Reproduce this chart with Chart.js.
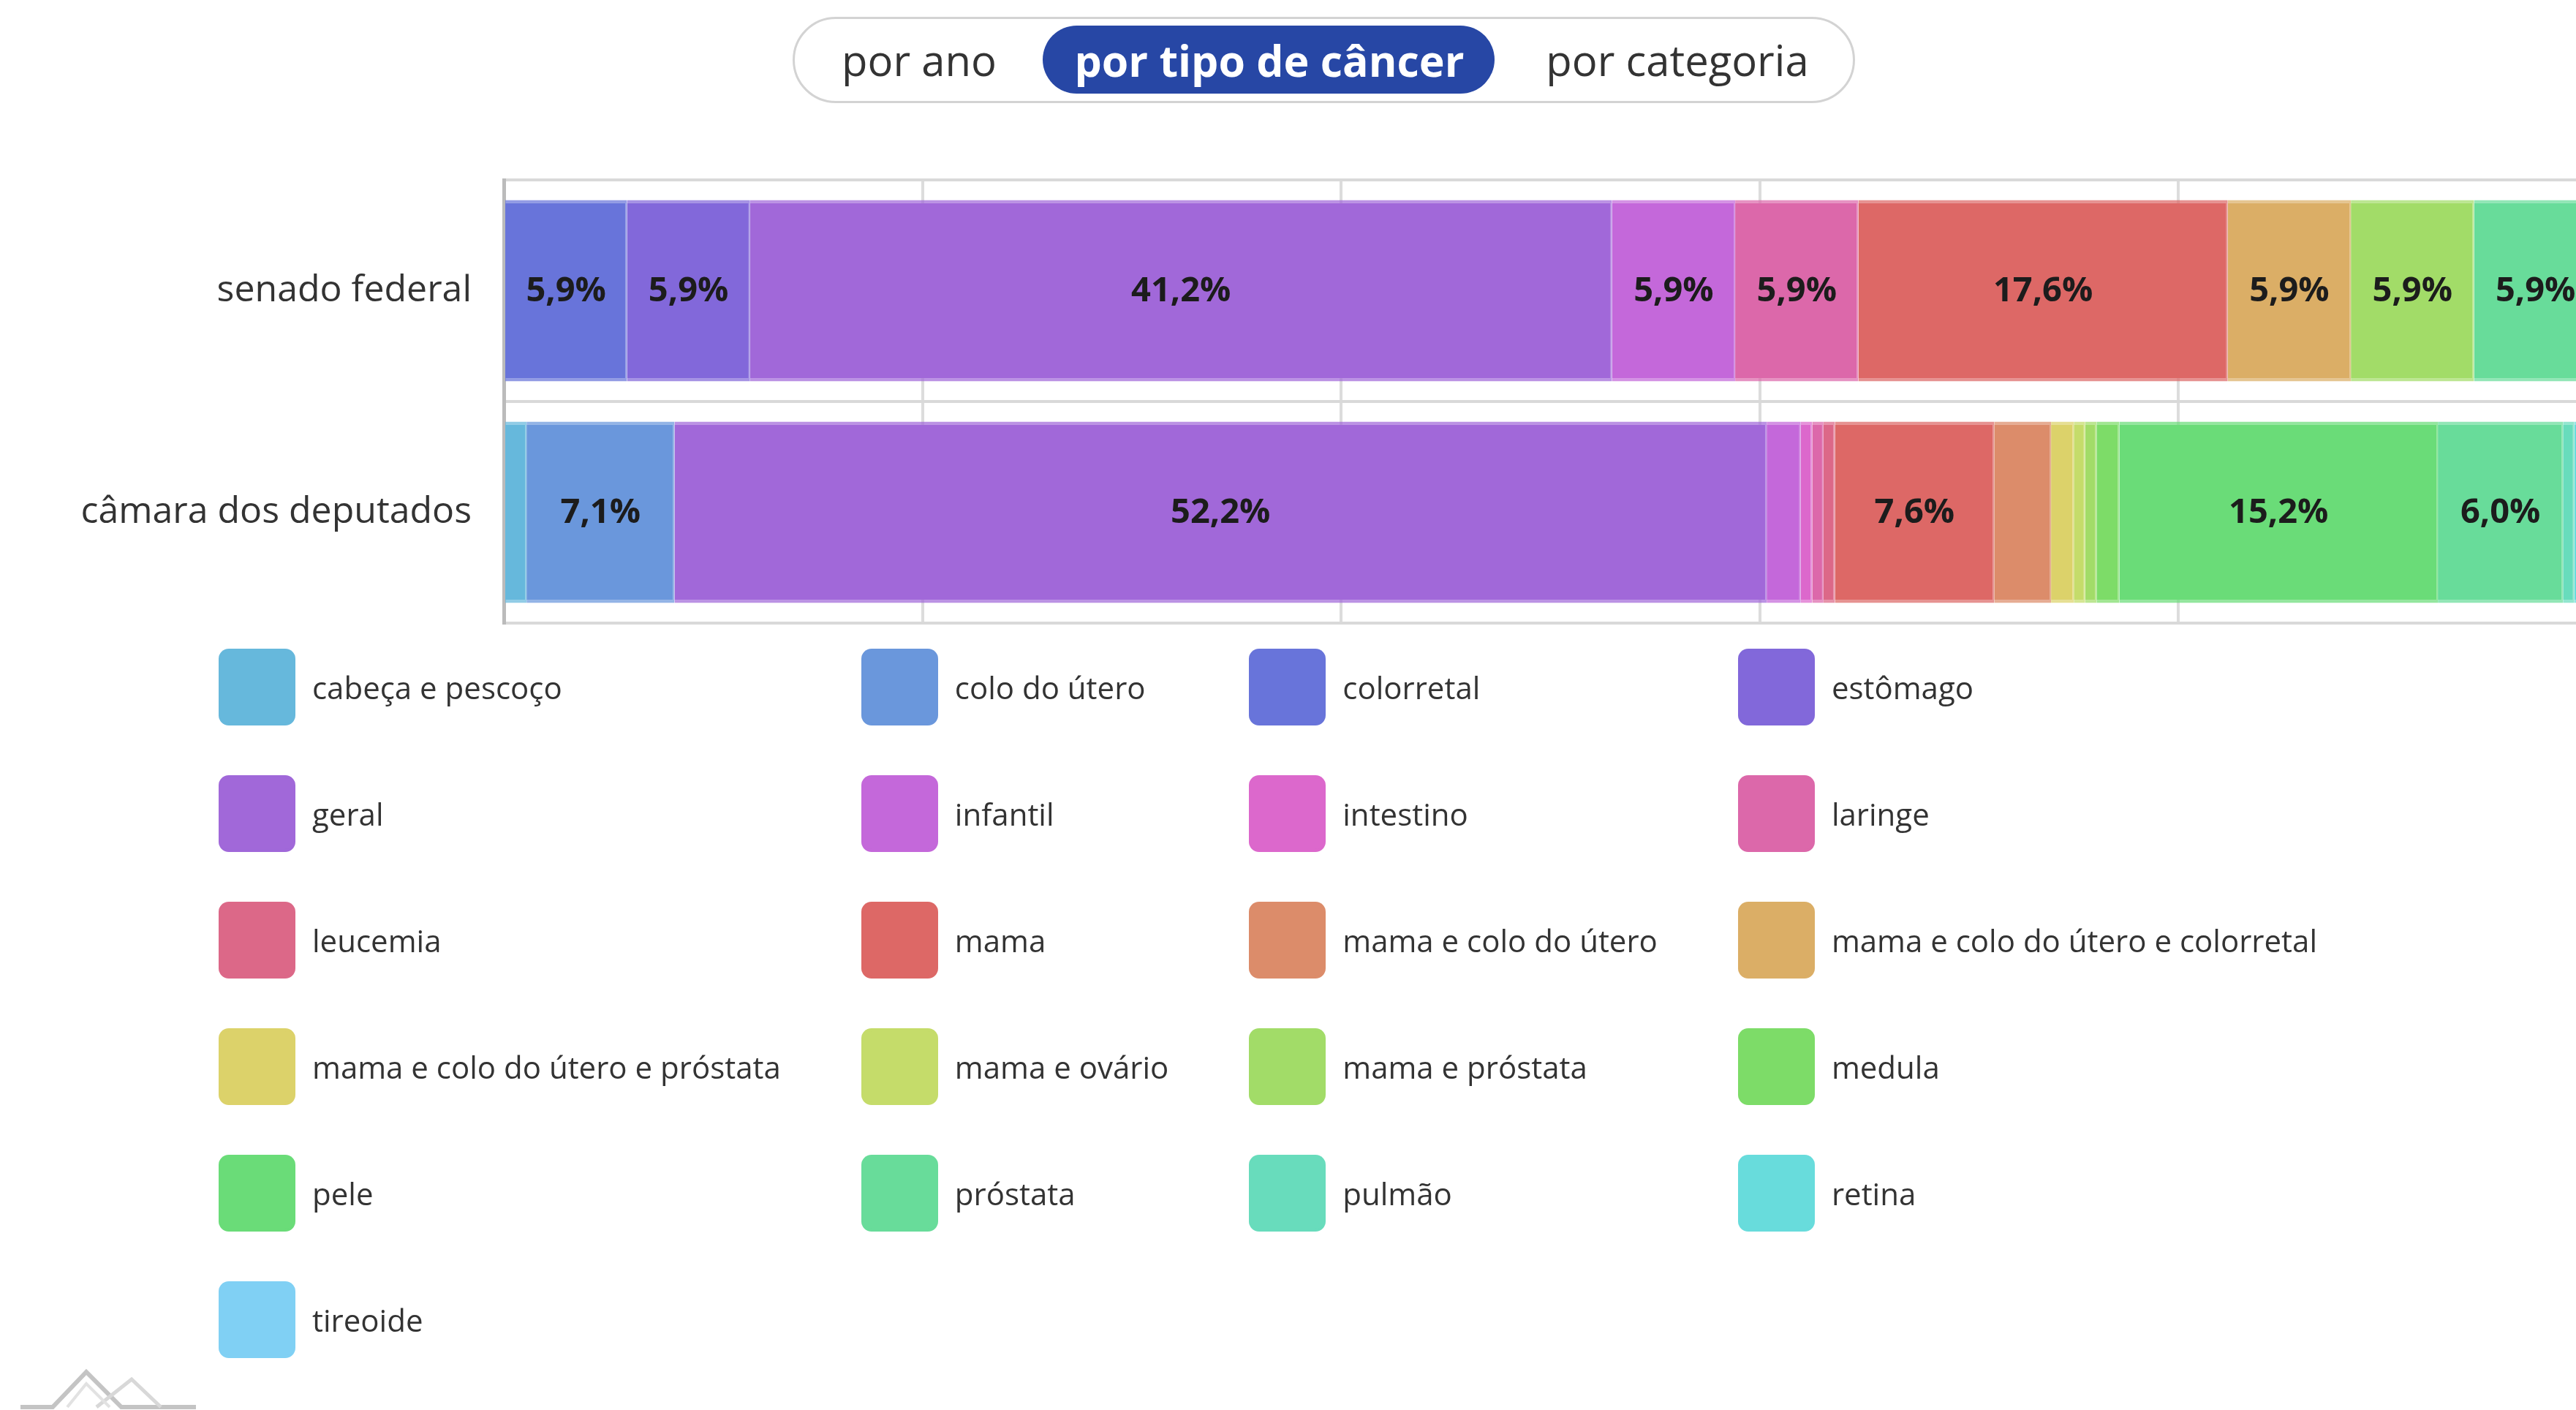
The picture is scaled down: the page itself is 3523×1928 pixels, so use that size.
<!DOCTYPE html>
<html>
<head>
<meta charset="utf-8">
<script src="https://cdn.jsdelivr.net/npm/chart.js@4.4.1/dist/chart.umd.min.js"></script>
<style>
  html, body { margin:0; padding:0; background:#fff; width:3523px; height:1928px; overflow:hidden; font-family:"Open Sans", sans-serif; }
  #toggle { position:absolute; left:1084px; top:23px; width:1453px; height:118px; box-sizing:border-box; border:3px solid #d3d3d3; border-radius:59px; background:#fff; }
  #active { position:absolute; left:1426px; top:35px; width:618px; height:93px; border-radius:47px; background:#2747a5; }
  .opt { position:absolute; top:35px; height:93px; display:flex; align-items:center; justify-content:center; font-size:58px; color:#333; white-space:nowrap; transform:translateX(-50%); }
  .opt.on { color:#fff; font-weight:700; font-size:59px; }
  #wrap { position:absolute; left:0; top:0; width:3600px; height:926px; }
  #legend { position:absolute; left:299px; top:887px; display:grid; grid-template-columns:repeat(4, auto); column-gap:110px; row-gap:68px; justify-content:start; }
  .li { display:flex; align-items:center; height:105px; }
  .sw { width:105px; height:105px; box-sizing:border-box; border-radius:14px; margin-right:23px; flex:none; }
  .lt { font-size:42px; color:#333; white-space:nowrap; }
  #logo { position:absolute; left:20px; top:1866px; }
</style>
</head>
<body>
<div id="toggle"></div>
<div id="active"></div>
<div class="opt" style="left:1257px">por ano</div>
<div class="opt on" style="left:1736px">por tipo de câncer</div>
<div class="opt" style="left:2294px">por categoria</div>

<div id="wrap"><canvas id="c" width="3600" height="926"></canvas></div>
<div id="legend"></div>

<svg id="logo" width="260" height="62" viewBox="0 0 260 62">
  <polyline points="8,58 52,58 98,10 146,58 248,58" fill="none" stroke="#c4c4c4" stroke-width="6"/>
  <polyline points="112,58 160,20 200,58" fill="none" stroke="#d8d8d8" stroke-width="5"/>
  <polyline points="72,58 98,26 130,58" fill="none" stroke="#e2e2e2" stroke-width="4"/>
</svg>

<script>
// ---- data ----
const categories = ["senado federal", "câmara dos deputados"];

const cancerTypes = [
  "cabeça e pescoço", "colo do útero", "colorretal", "estômago",
  "geral", "infantil", "intestino", "laringe",
  "leucemia", "mama", "mama e colo do útero", "mama e colo do útero e colorretal",
  "mama e colo do útero e próstata", "mama e ovário", "mama e próstata", "medula",
  "pele", "próstata", "pulmão", "retina",
  "tireoide"
];

const typeColors = [
  "#66b8dc", "#6a97dc", "#6874da", "#8268da",
  "#a168d9", "#c468da", "#dc68cc", "#dc68aa",
  "#dc6888", "#dd6866", "#dc8c6a", "#dbae66",
  "#dcd26a", "#c5dc6a", "#a2dc68", "#7ddc68",
  "#6adc78", "#68dc9a", "#68dcbc", "#68dcdc",
  "#80d0f4"
];

// percent share per cancer type (same order as cancerTypes)
const senadoPct = [
  0, 0, 5.882, 5.882,
  41.176, 5.882, 0, 5.882,
  0, 17.647, 0, 5.882,
  0, 0, 5.882, 0,
  0, 5.882, 0, 0,
  0
];
const camaraPct = [
  1.087, 7.065, 0, 0,
  52.174, 1.630, 0.543, 0.543,
  0.543, 7.609, 2.717, 0,
  1.087, 0.543, 0.543, 1.087,
  15.217, 5.978, 0.543, 0.543,
  0.543
];

const xTicks = [0, 20, 40, 60, 80, 100];
const labelThreshold = 5;

// ---- helpers ----
function rgba(hex, a) {
  const n = parseInt(hex.slice(1), 16);
  return `rgba(${(n >> 16) & 255},${(n >> 8) & 255},${n & 255},${a})`;
}

const datasets = cancerTypes.map((name, i) => ({
  label: name,
  data: [senadoPct[i], camaraPct[i]],
  backgroundColor: typeColors[i],
  borderColor: rgba(typeColors[i], 0.72),
  borderWidth: { top: 4, bottom: 4, right: 2, left: 0 },
  borderSkipped: 'start',
  barPercentage: 0.9,
  categoryPercentage: 0.91
}));

const valueLabels = {
  id: 'valueLabels',
  afterDatasetsDraw(chart) {
    const ctx = chart.ctx;
    ctx.save();
    ctx.font = "700 47px 'Open Sans'";
    ctx.fillStyle = "#1c1c1c";
    ctx.textAlign = "center";
    ctx.textBaseline = "middle";
    chart.data.datasets.forEach((ds, di) => {
      const meta = chart.getDatasetMeta(di);
      meta.data.forEach((el, j) => {
        const v = ds.data[j];
        if (v >= labelThreshold) {
          const p = el.getCenterPoint();
          ctx.fillText(v.toFixed(1).replace('.', ',') + '%', p.x, p.y + 1);
        }
      });
    });
    ctx.restore();
  }
};

Chart.defaults.font.family = "'Open Sans', sans-serif";

new Chart(document.getElementById('c'), {
  type: 'bar',
  data: { labels: categories, datasets },
  options: {
    indexAxis: 'y',
    responsive: false,
    animation: false,
    devicePixelRatio: 1,
    layout: { padding: { top: 246, bottom: 30, right: 48, left: 0 } },
    plugins: { legend: { display: false }, tooltip: { enabled: false } },
    scales: {
      x: {
        stacked: true,
        min: xTicks[0],
        max: xTicks[xTicks.length - 1],
        afterBuildTicks(scale) { scale.ticks = xTicks.map(v => ({ value: v })); },
        ticks: { display: false },
        grid: { color: '#dcdcdc', lineWidth: 4, drawTicks: false },
        border: { display: true, color: '#d9d9d9', width: 4 }
      },
      y: {
        stacked: true,
        afterFit(scale) { scale.width = 689; },
        ticks: { color: '#333', font: { size: 50 }, padding: 44 },
        grid: { color: '#d9d9d9', lineWidth: 4, drawTicks: false, offset: true },
        border: { display: true, color: '#bbbbbb', width: 5 }
      }
    }
  },
  plugins: [valueLabels]
});

// ---- legend ----
const legend = document.getElementById('legend');
cancerTypes.forEach((name, i) => {
  const item = document.createElement('div');
  item.className = 'li';
  const sw = document.createElement('div');
  sw.className = 'sw';
  sw.style.background = typeColors[i];
  sw.style.borderTop = '4px solid ' + rgba(typeColors[i], 0.55);
  sw.style.borderBottom = '4px solid ' + rgba(typeColors[i], 0.55);
  const t = document.createElement('span');
  t.className = 'lt';
  t.textContent = name;
  item.appendChild(sw);
  item.appendChild(t);
  legend.appendChild(item);
});
</script>
</body>
</html>
